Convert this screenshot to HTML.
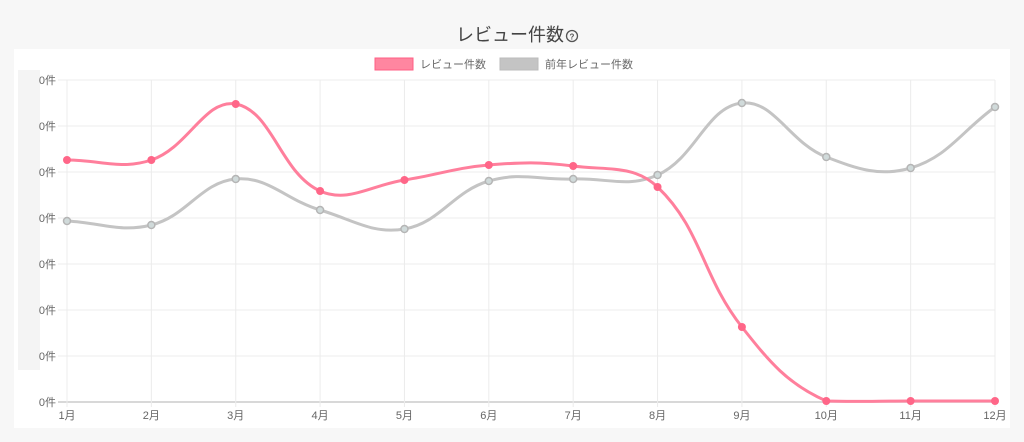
<!DOCTYPE html>
<html><head><meta charset="utf-8"><style>
html,body{margin:0;padding:0;background:#f7f7f7;width:1024px;height:442px;overflow:hidden;font-family:"Liberation Sans","Noto Sans CJK JP",sans-serif;}
</style></head><body>
<svg id="s" width="1024" height="442" xmlns="http://www.w3.org/2000/svg" style="position:absolute;left:0;top:0">
<rect x="14" y="49" width="996" height="379" fill="#fff"/>
<rect x="18" y="70" width="22" height="300" fill="#f4f4f4"/>
<text x="510" y="41" text-anchor="middle" font-size="18" fill="#444" font-family="Liberation Sans,Noto Sans CJK JP,sans-serif">レビュー件数</text>
<circle cx="572" cy="36" r="5.5" fill="none" stroke="#555" stroke-width="1.3"/>
<text x="572" y="39.5" text-anchor="middle" font-size="8" font-weight="bold" fill="#555">?</text>
<rect x="375" y="58" width="38" height="12" fill="#ff86a0" stroke="#ff5f85" stroke-width="1"/>
<text x="420" y="68" font-size="11" fill="#666" font-family="Liberation Sans,Noto Sans CJK JP,sans-serif">レビュー件数</text>
<rect x="500" y="58" width="38" height="12" fill="#c4c4c4" stroke="#bbb" stroke-width="1"/>
<text x="545" y="68" font-size="11" fill="#666" font-family="Liberation Sans,Noto Sans CJK JP,sans-serif">前年レビュー件数</text>
<g id="g"></g>
</svg>
<script>
var g=document.getElementById('g'),h='';
var xs=[],x0=67,x1=995;for(var i=0;i<12;i++)xs.push(x0+(x1-x0)*i/11);
var ys=[80,126,172,218,264,310,356,402];
ys.forEach(function(y,i){h+='<line x1="58" x2="995" y1="'+y+'" y2="'+y+'" stroke="'+(i==7?'#ccc':'#ececec')+'" stroke-width="'+(i==7?1.5:1)+'"/>';
h+='<text x="56" y="'+(y+4)+'" text-anchor="end" font-size="11" fill="#666" font-family="Liberation Sans,Noto Sans CJK JP,sans-serif">0件</text>';});
xs.forEach(function(x,i){h+='<line x1="'+x+'" x2="'+x+'" y1="80" y2="407" stroke="#ececec"/>';
h+='<text x="'+x+'" y="419" text-anchor="middle" font-size="11" fill="#666" font-family="Liberation Sans,Noto Sans CJK JP,sans-serif">'+(i+1)+'月</text>';});
function path(p){var t=0.4,d='M'+p[0][0]+','+p[0][1],cps=[];
for(var i=0;i<p.length;i++){var pr=p[Math.max(0,i-1)],c=p[i],n=p[Math.min(p.length-1,i+1)];
var d01=Math.hypot(c[0]-pr[0],c[1]-pr[1]),d12=Math.hypot(n[0]-c[0],n[1]-c[1]);
var s01=d01/(d01+d12)||0,s12=d12/(d01+d12)||0,fa=t*s01,fb=t*s12;
var cp=[[c[0]-fa*(n[0]-pr[0]),c[1]-fa*(n[1]-pr[1])],[c[0]+fb*(n[0]-pr[0]),c[1]+fb*(n[1]-pr[1])]];
cp.forEach(function(q){q[1]=Math.max(80,Math.min(402,q[1]));});cps.push(cp);}
for(var i=1;i<p.length;i++)d+=' C'+cps[i-1][1][0]+','+cps[i-1][1][1]+' '+cps[i][0][0]+','+cps[i][0][1]+' '+p[i][0]+','+p[i][1];return d;}
var pk=[160,160,104,191,180,165,166,187,327,401,401,401].map(function(y,i){return[xs[i],y]});
var gr=[221,225,179,210,229,181,179,175,103,157,168,107].map(function(y,i){return[xs[i],y]});
h+='<path d="'+path(gr)+'" fill="none" stroke="#c4c4c4" stroke-width="3"/>';
gr.forEach(function(p){h+='<circle cx="'+p[0]+'" cy="'+p[1]+'" r="3.5" fill="#d0dada" stroke="#b5b5b5" stroke-width="1.5"/>';});
h+='<path d="'+path(pk)+'" fill="none" stroke="#ff7f9c" stroke-width="3"/>';
pk.forEach(function(p){h+='<circle cx="'+p[0]+'" cy="'+p[1]+'" r="4" fill="#ff6688"/>';});
g.innerHTML=h;
</script>
</body></html>
